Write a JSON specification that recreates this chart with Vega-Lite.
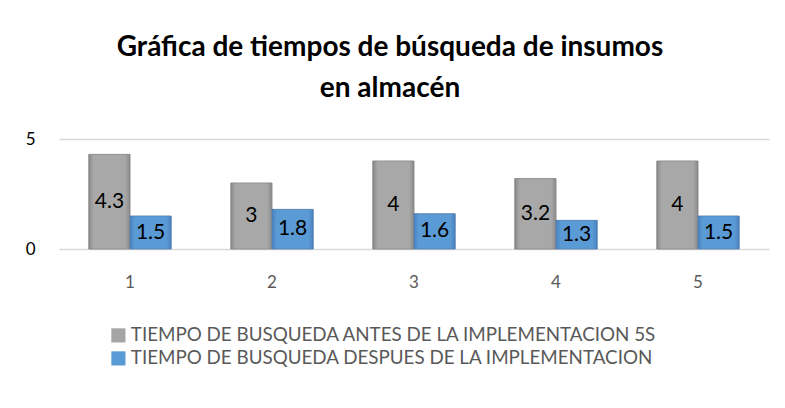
{
  "$schema": "https://vega.github.io/schema/vega-lite/v6.json",
  "width": 710,
  "height": 110,
  "autosize": {"type": "none"},
  "padding": {"left": 59, "top": 139, "right": 16, "bottom": 159},
  "background": "white",
  "config": {
    "view": {"stroke": null},
    "font": "Lato"
  },
  "title": {
    "text": ["Gráfica de tiempos de búsqueda de insumos", "en almacén"],
    "font": "Lato",
    "fontSize": 28,
    "fontWeight": "bold",
    "color": "#000000",
    "anchor": "middle",
    "frame": "group",
    "dx": -24,
    "lineHeight": 41,
    "baseline": "alphabetic",
    "offset": 5
  },
  "data": {
    "values": [
      {"cat": "1", "series": "TIEMPO DE BUSQUEDA ANTES DE LA IMPLEMENTACION 5S", "value": 4.3},
      {"cat": "1", "series": "TIEMPO DE BUSQUEDA DESPUES DE LA IMPLEMENTACION", "value": 1.5},
      {"cat": "2", "series": "TIEMPO DE BUSQUEDA ANTES DE LA IMPLEMENTACION 5S", "value": 3},
      {"cat": "2", "series": "TIEMPO DE BUSQUEDA DESPUES DE LA IMPLEMENTACION", "value": 1.8},
      {"cat": "3", "series": "TIEMPO DE BUSQUEDA ANTES DE LA IMPLEMENTACION 5S", "value": 4},
      {"cat": "3", "series": "TIEMPO DE BUSQUEDA DESPUES DE LA IMPLEMENTACION", "value": 1.6},
      {"cat": "4", "series": "TIEMPO DE BUSQUEDA ANTES DE LA IMPLEMENTACION 5S", "value": 3.2},
      {"cat": "4", "series": "TIEMPO DE BUSQUEDA DESPUES DE LA IMPLEMENTACION", "value": 1.3},
      {"cat": "5", "series": "TIEMPO DE BUSQUEDA ANTES DE LA IMPLEMENTACION 5S", "value": 4},
      {"cat": "5", "series": "TIEMPO DE BUSQUEDA DESPUES DE LA IMPLEMENTACION", "value": 1.5}
    ]
  },
  "encoding": {
    "x": {
      "field": "cat",
      "type": "nominal",
      "scale": {"paddingInner": 0.42, "paddingOuter": 0.21},
      "axis": {
        "title": null,
        "labelAngle": 0,
        "labelFontSize": 17,
        "labelColor": "#595959",
        "labelPadding": 25,
        "ticks": false,
        "domain": false
      }
    },
    "xOffset": {"field": "series", "type": "nominal"},
    "y": {
      "field": "value",
      "type": "quantitative",
      "scale": {"domain": [0, 5], "nice": false},
      "axis": {
        "title": null,
        "values": [0, 5],
        "labelFontSize": 17,
        "labelColor": "#000000",
        "labelPadding": 24,
        "ticks": false,
        "domain": false,
        "gridColor": "#d9d9d9",
        "gridWidth": 1.5
      }
    }
  },
  "layer": [
    {
      "mark": {"type": "bar", "stroke": "#7f7f7f", "strokeWidth": 0.5},
      "encoding": {
        "color": {
          "field": "series",
          "type": "nominal",
          "scale": {"range": ["#a5a5a5", "#5b9bd5"]},
          "legend": {
            "title": null,
            "orient": "none",
            "legendX": 50,
            "legendY": 187,
            "direction": "vertical",
            "symbolType": "square",
            "symbolSize": 200,
            "symbolStrokeWidth": 0,
            "labelFontSize": 18.8,
            "labelColor": "#595959",
            "labelLimit": 700,
            "rowPadding": 3,
            "labelOffset": 3
          }
        }
      }
    },
    {
      "transform": [{"filter": "datum.series == 'TIEMPO DE BUSQUEDA ANTES DE LA IMPLEMENTACION 5S'"}],
      "mark": {
        "type": "bar",
        "stroke": "#7f7f7f",
        "strokeWidth": 0.5,
        "color": {"gradient": "linear", "x1": 0, "y1": 0, "x2": 1, "y2": 0, "stops": [
          {"offset": 0, "color": "#8a8a8a"},
          {"offset": 0.12, "color": "#a8a8a8"},
          {"offset": 0.88, "color": "#a8a8a8"},
          {"offset": 1, "color": "#8a8a8a"}
        ]}
      }
    },
    {
      "transform": [{"filter": "datum.series == 'TIEMPO DE BUSQUEDA DESPUES DE LA IMPLEMENTACION'"}],
      "mark": {
        "type": "bar",
        "stroke": "#3f75b0",
        "strokeWidth": 0.5,
        "color": {"gradient": "linear", "x1": 0, "y1": 0, "x2": 1, "y2": 0, "stops": [
          {"offset": 0, "color": "#4a82c0"},
          {"offset": 0.12, "color": "#5b9bd5"},
          {"offset": 0.88, "color": "#5b9bd5"},
          {"offset": 1, "color": "#4a82c0"}
        ]}
      }
    },
    {
      "transform": [{"calculate": "datum.value / 2", "as": "mid"}],
      "mark": {"type": "text", "fontSize": 21, "color": "#000000", "baseline": "middle"},
      "encoding": {
        "y": {"field": "mid", "type": "quantitative"},
        "text": {"field": "value", "type": "quantitative"}
      }
    }
  ]
}
